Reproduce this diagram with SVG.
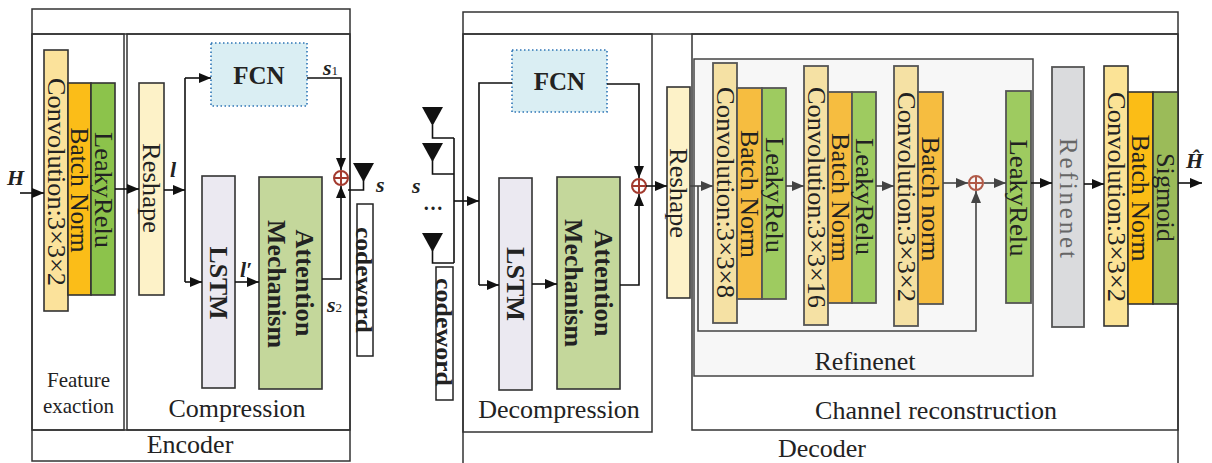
<svg xmlns="http://www.w3.org/2000/svg" width="1212" height="463" viewBox="0 0 1212 463">
<defs>
<marker id="ab" markerUnits="userSpaceOnUse" markerWidth="13" markerHeight="11" refX="12" refY="5" orient="auto"><path d="M0,0 L12,5 L0,10 z" fill="#111"/></marker>
<marker id="ag" markerUnits="userSpaceOnUse" markerWidth="13" markerHeight="11" refX="12" refY="5" orient="auto"><path d="M0,0 L12,5 L0,10 z" fill="#444"/></marker>
<style>
text{font-family:"Liberation Serif","Times New Roman",serif;fill:#222}
.v{text-anchor:middle;dominant-baseline:central;font-size:25px}
.b{font-weight:bold}
.lab{font-size:26px;text-anchor:middle}
.sym{font-weight:bold;font-style:italic;font-size:22px}
.frame{fill:none;stroke:#333;stroke-width:1.5}
.bx{stroke:#333;stroke-width:1.6}
.bg{stroke:#555;stroke-width:1.8}
.w{fill:none;stroke:#111;stroke-width:1.6}
.wg{fill:none;stroke:#444;stroke-width:1.6}
.fcn{fill:#daeef3;stroke:#2e75b6;stroke-width:1.6;stroke-dasharray:1.5 2.5}
.ant{fill:#111}
.plus{fill:none;stroke:#a33a2e;stroke-width:2}
</style>
</defs>

<!-- Frames -->
<g id="encoder-frame">
<rect class="frame" x="32" y="9" width="318" height="452"/>
<line class="frame" x1="32" y1="34" x2="350" y2="34"/>
<line class="frame" x1="32" y1="430" x2="350" y2="430"/>
<text class="lab" x="190" y="453">Encoder</text>
</g>
<g id="feature-frame">
<rect class="frame" x="32" y="34" width="92" height="396"/>
<text x="78.5" y="387" style="font-size:21px;text-anchor:middle">Feature</text>
<text x="78.5" y="413" style="font-size:21px;text-anchor:middle">exaction</text>
</g>
<g id="compression-frame">
<rect class="frame" x="127" y="34" width="223" height="396"/>
<text class="lab" x="237" y="417">Compression</text>
</g>
<g id="decoder-frame">
<rect class="frame" x="463" y="12" width="715" height="470"/>
<line class="frame" x1="463" y1="34" x2="1178" y2="34"/>
<text class="lab" x="822" y="457">Decoder</text>
</g>
<g id="decompression-frame">
<rect class="frame" x="463" y="34" width="189" height="398"/>
<text class="lab" x="559" y="418">Decompression</text>
</g>
<g id="channel-frame">
<rect class="frame" x="692" y="34" width="486" height="396"/>
<text class="lab" x="936" y="419">Channel reconstruction</text>
</g>
<g id="refinenet-frame">
<rect x="694" y="59" width="339" height="317" fill="#f7f7f7" stroke="#444" stroke-width="1.5"/>
<text class="lab" x="865" y="370">Refinenet</text>
</g>

<!-- Encoder nodes -->
<g id="enc-conv"><rect class="bx" x="44" y="50" width="24" height="261" fill="#fbe29b"/>
<text class="v" transform="translate(56,182) rotate(90)" textLength="208" lengthAdjust="spacingAndGlyphs">Convolution:3×3×2</text></g>
<g id="enc-bn"><rect class="bx" x="68" y="83" width="23" height="212" fill="#fbbd18"/>
<text class="v" transform="translate(79.5,190) rotate(90)" textLength="125" lengthAdjust="spacingAndGlyphs">Batch Norm</text></g>
<g id="enc-lr"><rect class="bx" x="91" y="83" width="24" height="212" fill="#8cc34b"/>
<text class="v" transform="translate(103,190) rotate(90)" textLength="116" lengthAdjust="spacingAndGlyphs">LeakyRelu</text></g>
<g id="enc-reshape"><rect class="bx" x="139" y="83" width="25" height="212" fill="#fdf2c8"/>
<text class="v" transform="translate(151.5,188) rotate(90)" textLength="90" lengthAdjust="spacingAndGlyphs">Reshape</text></g>
<g id="enc-fcn"><rect class="fcn" x="211" y="43" width="96" height="63"/>
<text x="259" y="84" class="b" style="font-size:25px;text-anchor:middle">FCN</text></g>
<g id="enc-lstm"><rect class="bx" x="202" y="176" width="33" height="212" fill="#ebe9f1"/>
<text class="v b" transform="translate(218.5,283) rotate(90)" textLength="73" lengthAdjust="spacingAndGlyphs">LSTM</text></g>
<g id="enc-att"><rect class="bx" x="259" y="177" width="63" height="212" fill="#c4d79b"/>
<text class="v b" transform="translate(304,283) rotate(90)" textLength="107" lengthAdjust="spacingAndGlyphs">Attention</text>
<text class="v b" transform="translate(276,284) rotate(90)" textLength="128" lengthAdjust="spacingAndGlyphs">Mechanism</text></g>
<g id="enc-sum"><circle class="plus" cx="341" cy="178" r="7"/><path class="plus" d="M334,178 H348 M341,171 V185"/></g>
<g id="enc-codeword"><rect x="357" y="204" width="16" height="152" fill="#fff" stroke="#222" stroke-width="1.5"/>
<text class="v b" transform="translate(364,280) rotate(90)" style="font-size:24px" textLength="106" lengthAdjust="spacingAndGlyphs">codeword</text></g>
<g id="enc-antenna"><path class="ant" d="M353,163 H374 L363.5,182 z"/></g>

<!-- Decoder nodes -->
<g id="dec-antennas">
<path class="ant" d="M422,107 H443 L432.5,126 z"/>
<path class="ant" d="M422,143 H443 L432.5,162 z"/>
<path class="ant" d="M422,233 H443 L432.5,252 z"/>
<text x="433" y="210" style="font-size:20px;text-anchor:middle;font-weight:bold">…</text>
</g>
<g id="dec-codeword"><rect x="436" y="267" width="17" height="133" fill="#fff" stroke="#222" stroke-width="1.5"/>
<text class="v b" transform="translate(444,332) rotate(90)" style="font-size:24px" textLength="108" lengthAdjust="spacingAndGlyphs">codeword</text></g>
<g id="dec-fcn"><rect class="fcn" x="512" y="50" width="95" height="62"/>
<text x="559.5" y="90" class="b" style="font-size:25px;text-anchor:middle">FCN</text></g>
<g id="dec-lstm"><rect class="bx" x="499" y="178" width="33" height="212" fill="#ebe9f1"/>
<text class="v b" transform="translate(515.5,284) rotate(90)" textLength="74" lengthAdjust="spacingAndGlyphs">LSTM</text></g>
<g id="dec-att"><rect class="bx" x="557" y="177" width="63" height="212" fill="#c4d79b"/>
<text class="v b" transform="translate(603,283) rotate(90)" textLength="107" lengthAdjust="spacingAndGlyphs">Attention</text>
<text class="v b" transform="translate(573,283) rotate(90)" textLength="128" lengthAdjust="spacingAndGlyphs">Mechanism</text></g>
<g id="dec-sum"><circle class="plus" cx="639" cy="186" r="7"/><path class="plus" d="M632,186 H646 M639,179 V193"/></g>
<g id="dec-reshape"><rect class="bx" x="667" y="87" width="23" height="211" fill="#fdf2c8"/>
<text class="v" transform="translate(678.5,193) rotate(90)" textLength="90" lengthAdjust="spacingAndGlyphs">Reshape</text></g>

<!-- Refinenet nodes -->
<g id="ref-conv1"><rect class="bg" x="713" y="63" width="24" height="260" fill="#f5e1a4"/>
<text class="v" transform="translate(725,192.5) rotate(90)" textLength="211" lengthAdjust="spacingAndGlyphs">Convolution:3×3×8</text></g>
<g id="ref-bn1"><rect class="bg" x="737" y="88" width="25" height="211" fill="#f6bd40"/>
<text class="v" transform="translate(749.5,194) rotate(90)" textLength="128" lengthAdjust="spacingAndGlyphs">Batch Norm</text></g>
<g id="ref-lr1"><rect class="bg" x="762" y="88" width="24" height="211" fill="#9ecb60"/>
<text class="v" transform="translate(774,195) rotate(90)" textLength="116" lengthAdjust="spacingAndGlyphs">LeakyRelu</text></g>
<g id="ref-conv2"><rect class="bg" x="804" y="66" width="24" height="259" fill="#f5e1a4"/>
<text class="v" transform="translate(816,197.5) rotate(90)" textLength="221" lengthAdjust="spacingAndGlyphs">Convolution:3×3×16</text></g>
<g id="ref-bn2"><rect class="bg" x="828" y="92" width="24" height="211" fill="#f6bd40"/>
<text class="v" transform="translate(840,197.5) rotate(90)" textLength="129" lengthAdjust="spacingAndGlyphs">Batch Norm</text></g>
<g id="ref-lr2"><rect class="bg" x="852" y="92" width="24" height="211" fill="#9ecb60"/>
<text class="v" transform="translate(864,196.5) rotate(90)" textLength="117" lengthAdjust="spacingAndGlyphs">LeakyRelu</text></g>
<g id="ref-conv3"><rect class="bg" x="894" y="66" width="24" height="260" fill="#f5e1a4"/>
<text class="v" transform="translate(906,197) rotate(90)" textLength="210" lengthAdjust="spacingAndGlyphs">Convolution:3×3×2</text></g>
<g id="ref-bn3"><rect class="bg" x="918" y="92" width="25" height="212" fill="#f6bd40"/>
<text class="v" transform="translate(930.5,199) rotate(90)" textLength="125" lengthAdjust="spacingAndGlyphs">Batch norm</text></g>
<g id="ref-sum"><circle cx="976" cy="183" r="7" fill="none" stroke="#b05a48" stroke-width="2"/><path d="M969,183 H983 M976,176 V190" fill="none" stroke="#b05a48" stroke-width="2"/></g>

<!-- Channel reconstruction tail -->
<g id="dec-lr"><rect class="bg" x="1006" y="91" width="25" height="212" fill="#9ecb60"/>
<text class="v" transform="translate(1018.5,198) rotate(90)" textLength="117" lengthAdjust="spacingAndGlyphs">LeakyRelu</text></g>
<g id="dec-refinenet"><rect class="bg" x="1052" y="67" width="32" height="260" fill="#dadbdd"/>
<text class="v" transform="translate(1068,198) rotate(90)" style="fill:#666" textLength="120" lengthAdjust="spacing">Refinenet</text></g>
<g id="dec-conv"><rect class="bx" x="1104" y="66" width="24" height="260" fill="#fbe396"/>
<text class="v" transform="translate(1116,197) rotate(90)" textLength="210" lengthAdjust="spacingAndGlyphs">Convolution:3×3×2</text></g>
<g id="dec-bn"><rect class="bx" x="1128" y="92" width="25" height="212" fill="#fbbd16"/>
<text class="v" transform="translate(1140.5,198) rotate(90)" textLength="127" lengthAdjust="spacingAndGlyphs">Batch Norm</text></g>
<g id="dec-sigmoid"><rect class="bx" x="1153" y="92" width="25" height="212" fill="#9bbb59"/>
<text class="v" transform="translate(1165.5,197.5) rotate(90)" textLength="89" lengthAdjust="spacingAndGlyphs">Sigmoid</text></g>

<!-- Connectors -->
<g id="connectors">
<line class="w" x1="20" y1="193" x2="44" y2="193" marker-end="url(#ab)"/>
<line class="w" x1="115" y1="189" x2="139" y2="189" marker-end="url(#ab)"/>
<line class="w" x1="164" y1="190" x2="185" y2="190" marker-end="url(#ab)"/>
<line class="w" x1="185" y1="78" x2="185" y2="282"/>
<line class="w" x1="185" y1="78" x2="211" y2="78" marker-end="url(#ab)"/>
<line class="w" x1="185" y1="282" x2="202" y2="282" marker-end="url(#ab)"/>
<line class="w" x1="235" y1="282" x2="259" y2="282" marker-end="url(#ab)"/>
<path class="w" d="M307,78 H341 V170" marker-end="url(#ab)"/>
<path class="w" d="M322,279 H341 V186" marker-end="url(#ab)"/>
<path class="w" d="M348,190 H363.5 V180"/>

<path class="w" d="M432.5,125 V138 H454 M432.5,160 V174 H454 M432.5,250 V263 H454 M454,138 V263"/>
<line class="w" x1="454" y1="201" x2="479" y2="201" marker-end="url(#ab)"/>
<path class="w" d="M512,83 H479 V285"/>
<line class="w" x1="479" y1="285" x2="499" y2="285" marker-end="url(#ab)"/>
<line class="w" x1="532" y1="284" x2="557" y2="284" marker-end="url(#ab)"/>
<path class="w" d="M620,285 H639 V194" marker-end="url(#ab)"/>
<path class="w" d="M607,84 H639 V178" marker-end="url(#ab)"/>
<line class="w" x1="646" y1="186" x2="667" y2="186" marker-end="url(#ab)"/>

<line class="wg" x1="690" y1="186" x2="713" y2="186" marker-end="url(#ag)"/>
<path class="wg" d="M698,186 V331 H976 V191" marker-end="url(#ag)"/>
<line class="wg" x1="786" y1="186" x2="804" y2="186" marker-end="url(#ag)"/>
<line class="wg" x1="876" y1="186" x2="894" y2="186" marker-end="url(#ag)"/>
<line class="wg" x1="943" y1="183" x2="968" y2="183" marker-end="url(#ag)"/>
<line class="wg" x1="984" y1="183" x2="1006" y2="183" marker-end="url(#ag)"/>
<line class="w" x1="1031" y1="183" x2="1052" y2="183" marker-end="url(#ab)"/>
<line class="w" x1="1084" y1="184" x2="1104" y2="184" marker-end="url(#ab)"/>
<line class="w" x1="1178" y1="183" x2="1202" y2="183" marker-end="url(#ab)"/>
</g>

<!-- Symbol labels -->
<g id="labels">
<text class="sym" x="7" y="185">H</text>
<text class="sym" x="170" y="177">l</text>
<text class="sym" x="240" y="277">l′</text>
<text class="sym" x="323" y="75">s<tspan style="font-size:13px;font-weight:normal;font-style:normal">1</tspan></text>
<text class="sym" x="327" y="312">s<tspan style="font-size:13px;font-weight:normal;font-style:normal">2</tspan></text>
<text class="sym" x="376" y="192">s</text>
<text class="sym" x="412" y="193">s</text>
<text class="sym" x="1186" y="168">Ĥ</text>
</g>
</svg>
